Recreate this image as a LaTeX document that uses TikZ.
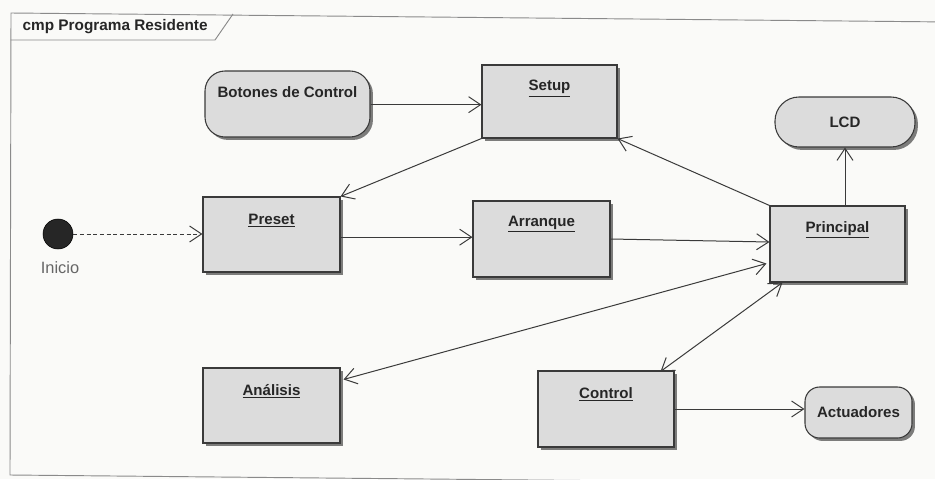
\documentclass[tikz,border=0pt]{standalone}
\usepackage{fontspec}
\setmainfont{Liberation Sans}
\usetikzlibrary{arrows.meta,shadows,calc}
\definecolor{boxfill}{HTML}{DCDCDC}
\definecolor{edge}{HTML}{3A3A3A}
\definecolor{framec}{HTML}{8A8A8A}
\definecolor{paper}{HTML}{FAFAF8}
\begin{document}
\begin{tikzpicture}[x=0.75pt,y=-0.75pt,
  every node/.style={font=\fontsize{11.3}{13}\selectfont\bfseries, text=black!85},
  size/.style 2 args={minimum width=#1*0.75pt, minimum height=#2*0.75pt},
  state/.style={draw=edge, line width=0.8pt, fill=boxfill, inner sep=0pt,
    drop shadow={shadow xshift=2.2pt, shadow yshift=-2.2pt, fill=black!60, opacity=0.85}},
  umlbox/.style={state, rectangle},
  pill/.style={state, rectangle, rounded corners=#1},
  nm/.style={anchor=center, yshift=-#1},
  tip/.tip={Straight Barb[length=9pt,width=12pt]},
  flow/.style={draw=edge, line width=0.75pt, -tip},
  both/.style={draw=edge, line width=0.75pt, tip-tip},
]
\useasboundingbox[fill=paper] (0,0) rectangle (935,479);

% diagram frame with its name tab
\draw[framec, line width=0.7pt] (950,22) -- (11,13) -- (10,475) -- (950,484);
\draw[framec, line width=0.7pt] (10.5,40) -- (215,40) -- (233,14);
\node[anchor=west, font=\fontsize{11.5}{13}\selectfont\bfseries] (title) at (18,27) {cmp Programa Residente};

% initial node
\node[circle, fill=black!85, draw=black, minimum size=22.5pt, inner sep=0pt] (inicio) at (58,234) {};
\node[font=\fontsize{12.3}{14}\selectfont, text=black!60] (inicioLbl) at (60,268) {Inicio};

% states
\node[pill=15pt, size={165}{66}, label={[nm=16.5pt]north:Botones de Control}] (botones) at (287.5,104) {};
\node[umlbox, size={135}{73}, label={[nm=18pt]north:\underline{Setup}}] (setup) at (549.5,101.5) {};
\node[umlbox, size={137}{75}, label={[nm=18pt]north:\underline{Preset}}] (preset) at (271.5,234.5) {};
\node[umlbox, size={137}{76}, label={[nm=18pt]north:\underline{Arranque}}] (arranque) at (541.5,239) {};
\node[umlbox, size={135}{76}, label={[nm=18pt]north:\underline{Principal}}] (principal) at (837.5,244) {};
\node[pill=18pt, size={140}{50}] (lcd) at (845,122) {LCD};
\node[umlbox, size={137}{75}, label={[nm=18pt]north:\underline{Análisis}}] (analisis) at (271.5,405.5) {};
\node[umlbox, size={136}{76}, label={[nm=18pt]north:\underline{Control}}] (control) at (606,409) {};
\node[pill=11pt, size={107}{51}] (actuadores) at (858.5,412.5) {Actuadores};

% transitions
\draw[flow, dashed, dash pattern=on 3pt off 2pt] (inicio.east) -- (inicio.east -| preset.west);
\draw[flow] ([yshift=-0.5pt]botones.east) -- ([yshift=-0.5pt]botones.east -| setup.west);
\draw[flow] (setup.south west) -- (preset.north east);
\draw[flow] ([yshift=-2pt]preset.east) -- ([yshift=-2pt]preset.east -| arranque.west);
\draw[flow] (arranque.east) -- ($(principal.west)+(0,-2)$);
\draw[flow] (principal.north west) -- (setup.south east);
\draw[flow] (lcd.south |- principal.north) -- (lcd.south);
\draw[both] ($(analisis.north east)+(3,12)$) -- ($(principal.south west)+(-3,-19)$);
\draw[both] ($(control.north east)+(-14,1)$) -- ($(principal.south west)+(13,0)$);
\draw[flow] (control.east) -- (control.east -| actuadores.west);
\end{tikzpicture}
\end{document}
